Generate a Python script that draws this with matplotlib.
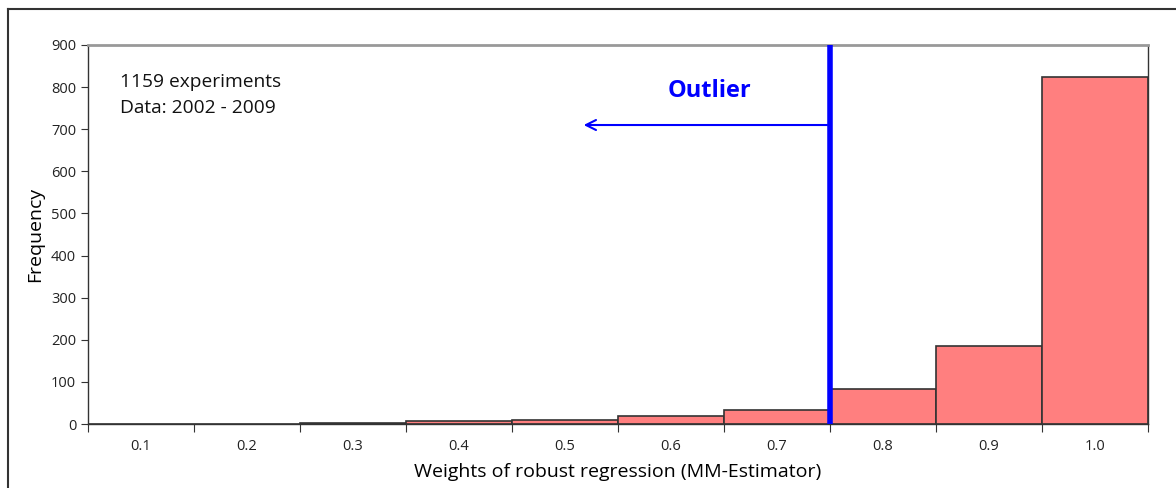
import matplotlib
matplotlib.use("Agg")
import matplotlib.pyplot as plt
from matplotlib.lines import Line2D

plt.rcParams['font.family'] = ['Open Sans', 'DejaVu Sans']

centers = [0.1, 0.2, 0.3, 0.4, 0.5, 0.6, 0.7, 0.8, 0.9, 1.0]
tick_labels = ["0.1", "0.2", "0.3", "0.4", "0.5", "0.6", "0.7", "0.8", "0.9", "1.0"]
freq = [0, 0, 2, 6, 9, 19, 33, 84, 186, 824]
cutoff = 0.75
bin_width = 0.1

fig = plt.figure(figsize=(11.76, 4.88), dpi=100)
ax = fig.add_axes([88/1176, 1-424/488, (1148-88)/1176, (424-45)/488])

ax.bar(centers, freq, width=bin_width, color="#FF7F7F", edgecolor="#333333", linewidth=1.2, zorder=2)

ax.set_xlim(0.05, 1.05)
ax.set_ylim(0, 900)
ax.set_yticks(range(0, 901, 100))
edges = [c - bin_width/2 for c in centers] + [centers[-1] + bin_width/2]
ax.set_xticks(edges)
ax.set_xticklabels([])
ax.set_xticks(centers, minor=True)
ax.set_xticklabels(tick_labels, minor=True)
ax.tick_params(axis='x', which='major', direction='out', length=6, color="#333333")
ax.tick_params(axis='x', which='minor', length=0, labelsize=10.5, pad=11, colors="#222222")
ax.tick_params(axis='y', direction='out', length=5, labelsize=10.5, colors="#222222")
ax.tick_params(axis='y', color="#333333")

for s in ['left', 'bottom', 'right']:
    ax.spines[s].set_color("#333333")
    ax.spines[s].set_linewidth(1.0)
ax.spines['top'].set_color("#999999")
ax.spines['top'].set_linewidth(2.0)

ax.axvline(cutoff, color="#0000FF", linewidth=4, zorder=3)
ax.annotate("", xy=(0.515, 710), xytext=(cutoff, 710),
            arrowprops=dict(arrowstyle="->", color="#0000FF", lw=1.5, mutation_scale=18))
ax.text(0.636, 790, "Outlier", color="#0000FF", fontsize=17, fontweight="bold",
        ha="center", va="center")

ax.text(0.08, 812, "1159 experiments", fontsize=13.8, ha="left", va="center", color="#111111")
ax.text(0.08, 750, "Data: 2002 - 2009", fontsize=13.8, ha="left", va="center", color="#111111")

ax.set_ylabel("Frequency", fontsize=14, labelpad=5)
ax.set_xlabel("Weights of robust regression (MM-Estimator)", fontsize=14, labelpad=6)

# outer frame (top and left edges)
fig.add_artist(Line2D([8/1176, 1.0], [1-9/488, 1-9/488], transform=fig.transFigure,
                      color="#333333", linewidth=1.5))
fig.add_artist(Line2D([8/1176, 8/1176], [0.0, 1-9/488], transform=fig.transFigure,
                      color="#333333", linewidth=1.5))

fig.savefig("out.png", dpi=100)
